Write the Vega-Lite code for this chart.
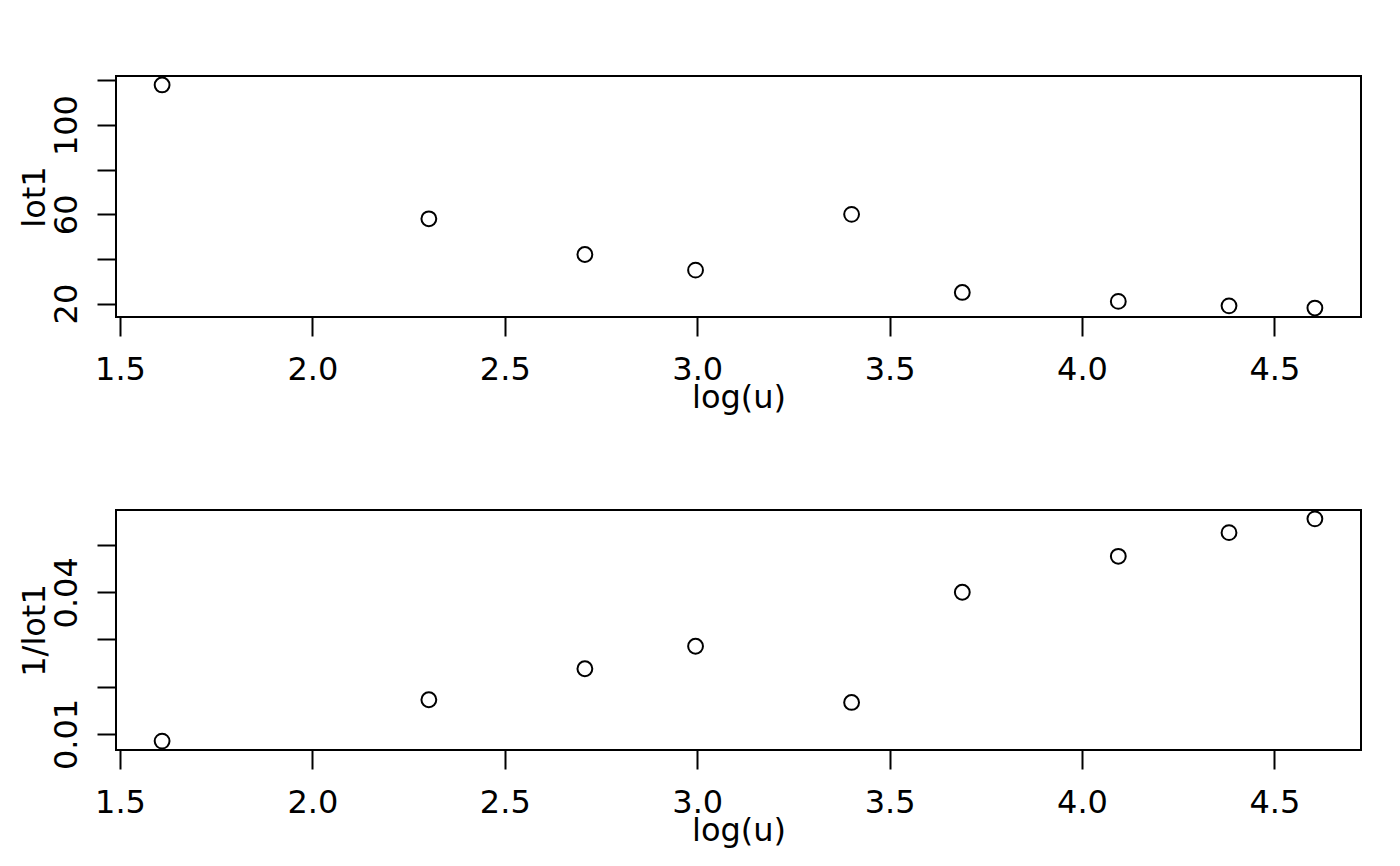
{
  "$schema": "https://vega.github.io/schema/vega-lite/v6.json",
  "background": "white",
  "padding": {"left": 16, "top": 72, "right": 39, "bottom": 10},
  "spacing": 92,
  "datasets": {
    "d": [
      {"logu": 1.6094, "lot1": 118, "inv": 0.008475},
      {"logu": 2.3026, "lot1": 58, "inv": 0.017241},
      {"logu": 2.7081, "lot1": 42, "inv": 0.02381},
      {"logu": 2.9957, "lot1": 35, "inv": 0.028571},
      {"logu": 3.4012, "lot1": 60, "inv": 0.016667},
      {"logu": 3.6889, "lot1": 25, "inv": 0.04},
      {"logu": 4.0943, "lot1": 21, "inv": 0.047619},
      {"logu": 4.3820, "lot1": 19, "inv": 0.052632},
      {"logu": 4.6052, "lot1": 18, "inv": 0.055556}
    ]
  },
  "config": {
    "view": {"stroke": "black", "strokeWidth": 2},
    "font": "DejaVu Sans",
    "axis": {
      "grid": false,
      "domain": false,
      "tickColor": "black",
      "tickSize": 19,
      "tickWidth": 2,
      "labelFont": "DejaVu Sans",
      "labelFontSize": 32,
      "labelColor": "black",
      "titleFont": "DejaVu Sans",
      "titleFontSize": 32,
      "titleFontWeight": "normal",
      "titleColor": "black"
    }
  },
  "vconcat": [
    {
      "width": 1245,
      "height": 241,
      "data": {"name": "d"},
      "mark": {"type": "point", "shape": "circle", "filled": false, "stroke": "black", "strokeWidth": 2, "size": 220, "opacity": 1},
      "encoding": {
        "x": {
          "field": "logu", "type": "quantitative", "title": "log(u)",
          "scale": {"domain": [1.4896, 4.725], "nice": false, "zero": false},
          "axis": {"values": [1.5, 2, 2.5, 3, 3.5, 4, 4.5], "format": ".1f", "labelPadding": 18, "titlePadding": -3, "labelFlush": false}
        },
        "y": {
          "field": "lot1", "type": "quantitative", "title": "lot1",
          "scale": {"domain": [14, 122], "nice": false, "zero": false},
          "axis": {
            "values": [20, 40, 60, 80, 100, 120],
            "labelExpr": "datum.value == 20 || datum.value == 60 || datum.value == 100 ? datum.label : ''",
            "labelAngle": -90, "labelAlign": "center", "labelBaseline": "bottom",
            "labelPadding": 14, "titlePadding": -1, "labelFlush": false
          }
        }
      }
    },
    {
      "width": 1245,
      "height": 240,
      "data": {"name": "d"},
      "mark": {"type": "point", "shape": "circle", "filled": false, "stroke": "black", "strokeWidth": 2, "size": 220, "opacity": 1},
      "encoding": {
        "x": {
          "field": "logu", "type": "quantitative", "title": "log(u)",
          "scale": {"domain": [1.4896, 4.725], "nice": false, "zero": false},
          "axis": {"values": [1.5, 2, 2.5, 3, 3.5, 4, 4.5], "format": ".1f", "labelPadding": 18, "titlePadding": -3, "labelFlush": false}
        },
        "y": {
          "field": "inv", "type": "quantitative", "title": "1/lot1",
          "scale": {"domain": [0.00659, 0.05743], "nice": false, "zero": false},
          "axis": {
            "values": [0.01, 0.02, 0.03, 0.04, 0.05],
            "format": ".2f",
            "labelExpr": "datum.value < 0.015 || (datum.value > 0.035 && datum.value < 0.045) ? datum.label : ''",
            "labelAngle": -90, "labelAlign": "center", "labelBaseline": "bottom",
            "labelPadding": 14, "titlePadding": -1, "labelFlush": false
          }
        }
      }
    }
  ]
}
